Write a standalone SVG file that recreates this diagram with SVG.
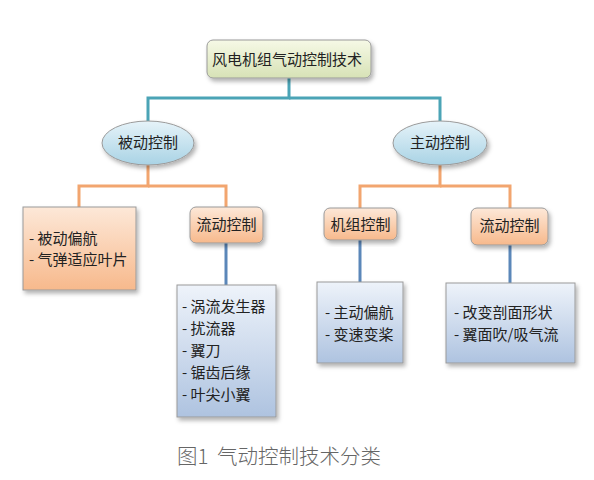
<svg xmlns="http://www.w3.org/2000/svg" width="594" height="480" viewBox="0 0 594 480">
<defs>
<linearGradient id="gGreen" x1="0" y1="0" x2="0" y2="1"><stop offset="0" stop-color="#f6f9e6"/><stop offset="1" stop-color="#d7e2b6"/></linearGradient>
<linearGradient id="gBlueE" x1="0" y1="0" x2="0" y2="1"><stop offset="0" stop-color="#e6f3f9"/><stop offset="1" stop-color="#a9d3e5"/></linearGradient>
<linearGradient id="gOrange" x1="0" y1="0" x2="0" y2="1"><stop offset="0" stop-color="#fde8d8"/><stop offset="1" stop-color="#f7b98c"/></linearGradient>
<linearGradient id="gBlue" x1="0" y1="0" x2="0" y2="1"><stop offset="0" stop-color="#eef3fa"/><stop offset="1" stop-color="#aec3e0"/></linearGradient>
<filter id="sh" x="-20%" y="-20%" width="140%" height="140%"><feDropShadow dx="2" dy="3" stdDeviation="2" flood-color="#000" flood-opacity="0.3"/></filter>
</defs>
<style>
text{font-family:"Noto Sans CJK SC","Liberation Sans",sans-serif;fill:#222;font-size:15px}
.box{stroke:#9a9a9a;stroke-width:1;filter:url(#sh)}
.teal{stroke:#4ba4b6;stroke-width:3;fill:none}
.orange{stroke:#f2a56f;stroke-width:3;fill:none}
.blue{stroke:#5b87b9;stroke-width:3;fill:none}
.cap{font-size:20.5px;fill:#666;font-weight:300}
</style>
<rect width="594" height="480" fill="#fff"/>
<g id="connectors">
<polyline class="teal" points="289,78 289,98 148,98 148,122"/>
<polyline class="teal" points="289,98 440,98 440,122"/>
<polyline class="orange" points="148,165 148,186 79,186 79,207"/>
<polyline class="orange" points="148,186 226,186 226,207"/>
<polyline class="orange" points="440,165 440,186 360,186 360,208"/>
<polyline class="orange" points="440,186 510,186 510,208"/>
<line class="blue" x1="226" y1="243" x2="226" y2="285"/>
<line class="blue" x1="360" y1="240" x2="360" y2="282"/>
<line class="blue" x1="510" y1="245" x2="510" y2="283"/>
</g>
<g id="root">
<rect class="box" x="207" y="40" width="164" height="38" rx="6" fill="url(#gGreen)"/>
<text x="212" y="65">风电机组气动控制技术</text>
</g>
<g id="passive">
<ellipse class="box" cx="148" cy="143" rx="46" ry="22" fill="url(#gBlueE)"/>
<text x="148" y="148" text-anchor="middle">被动控制</text>
</g>
<g id="active">
<ellipse class="box" cx="440" cy="143" rx="47" ry="22" fill="url(#gBlueE)"/>
<text x="440" y="148" text-anchor="middle">主动控制</text>
</g>
<g id="passive-list">
<rect class="box" x="23" y="207" width="113" height="83" fill="url(#gOrange)"/>
<text x="29" y="244">- 被动偏航</text>
<text x="29" y="265">- 气弹适应叶片</text>
</g>
<g id="flow-left">
<rect class="box" x="190" y="207" width="73" height="36" rx="6" fill="url(#gOrange)"/>
<text x="226.5" y="230" text-anchor="middle">流动控制</text>
</g>
<g id="unit">
<rect class="box" x="324" y="208" width="73" height="32" rx="6" fill="url(#gOrange)"/>
<text x="360.5" y="230" text-anchor="middle">机组控制</text>
</g>
<g id="flow-right">
<rect class="box" x="471" y="208" width="77" height="37" rx="6" fill="url(#gOrange)"/>
<text x="509.5" y="231" text-anchor="middle">流动控制</text>
</g>
<g id="flow-left-list">
<rect class="box" x="177" y="285" width="99" height="132" fill="url(#gBlue)"/>
<text x="182" y="312">- 涡流发生器</text>
<text x="182" y="334">- 扰流器</text>
<text x="182" y="356">- 翼刀</text>
<text x="182" y="378">- 锯齿后缘</text>
<text x="182" y="400">- 叶尖小翼</text>
</g>
<g id="unit-list">
<rect class="box" x="317" y="282" width="86" height="81" fill="url(#gBlue)"/>
<text x="325" y="318">- 主动偏航</text>
<text x="325" y="340">- 变速变桨</text>
</g>
<g id="flow-right-list">
<rect class="box" x="446" y="283" width="129" height="80" fill="url(#gBlue)"/>
<text x="454" y="318">- 改变剖面形状</text>
<text x="454" y="340">- 翼面吹/吸气流</text>
</g>
<g id="caption">
<text class="cap" x="177" y="464">图1</text>
<text class="cap" x="217" y="464">气动控制技术分类</text>
</g>
</svg>
